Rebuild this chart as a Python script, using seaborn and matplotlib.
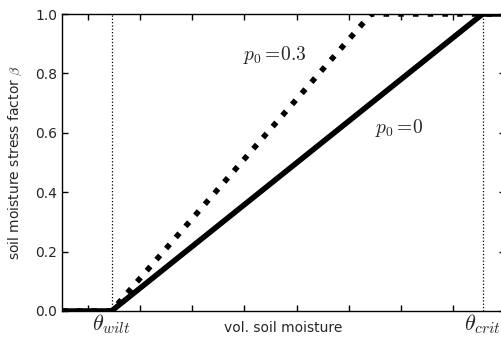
import matplotlib
matplotlib.use("Agg")
import matplotlib.pyplot as plt
import seaborn as sns
import pandas as pd

# data
theta_wilt = 0.145
theta_crit = 0.857
x_p0 = [0.05, 0.145, 0.857, 0.9]
beta_p0 = [0.0, 0.0, 1.0, 1.0]
x_p03 = [0.05, 0.145, 0.643, 0.9]
beta_p03 = [0.0, 0.0, 1.0, 1.0]
yticks = [0.0, 0.2, 0.4, 0.6, 0.8, 1.0]
xticks_minor = [0.1, 0.2, 0.3, 0.4, 0.5, 0.6, 0.7, 0.8, 0.9]

sns.set_style("ticks", {"xtick.direction": "in", "ytick.direction": "in"})
plt.rcParams["font.family"] = ["DejaVu Sans"]
plt.rcParams["mathtext.fontset"] = "cm"
plt.rcParams["font.size"] = 10

fig = plt.figure(figsize=(5.01, 3.40), dpi=100)
ax = fig.add_axes([62 / 501, 29 / 340, (505 - 62) / 501, (311 - 14) / 340])

df0 = pd.DataFrame({"x": x_p0, "beta": beta_p0})
df3 = pd.DataFrame({"x": x_p03, "beta": beta_p03})

sns.lineplot(data=df3, x="x", y="beta", ax=ax, color="black", lw=4,
             linestyle=":", estimator=None, sort=False, zorder=2)
sns.lineplot(data=df0, x="x", y="beta", ax=ax, color="black", lw=4,
             estimator=None, sort=False, zorder=3)

ax.axvline(theta_wilt, color="black", lw=0.9, linestyle=":", zorder=1)
ax.axvline(theta_crit, color="black", lw=0.9, linestyle=":", zorder=1)

ax.set_xlim(0.05, 0.9)
ax.set_ylim(0.0, 1.0)
ax.set_yticks(yticks)
ax.set_yticklabels([f"{v:.1f}" for v in yticks], fontsize=10)
ax.set_xticks(xticks_minor)
ax.set_xticklabels([])
ax.tick_params(axis="both", which="both", direction="in", length=4, width=1,
               top=True, right=True, color="black")
for s in ax.spines.values():
    s.set_linewidth(1.0)
    s.set_color("black")

ax.set_ylabel(r"soil moisture stress factor $\beta$", fontsize=10, labelpad=8)
ax.set_xlabel("vol. soil moisture", fontsize=10, labelpad=4)

ax.text(theta_wilt, -0.064, r"$\theta_{wilt}$", transform=ax.get_xaxis_transform(),
        ha="center", va="baseline", fontsize=16)
ax.text(theta_crit, -0.064, r"$\theta_{crit}$", transform=ax.get_xaxis_transform(),
        ha="center", va="baseline", fontsize=16)

ax.text(0.397, 0.862, r"$p_0 =\!0.3$", ha="left", va="center", fontsize=14)
ax.text(0.651, 0.616, r"$p_0 =\!0$", ha="left", va="center", fontsize=14)

fig.savefig("out.png", dpi=100)
